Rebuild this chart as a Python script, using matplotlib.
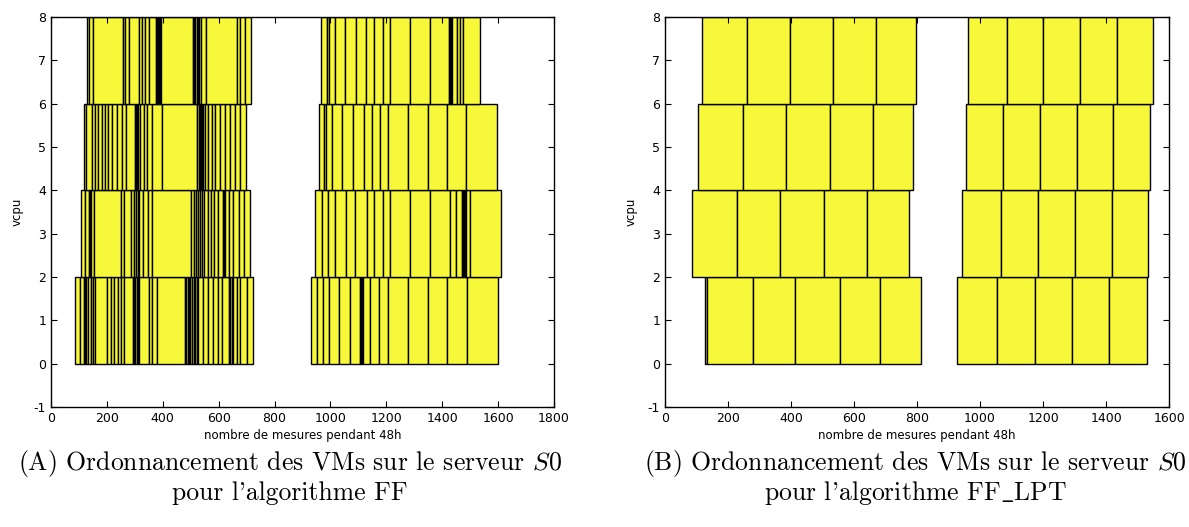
import matplotlib
matplotlib.use("Agg")
import matplotlib.pyplot as plt
import numpy as np

plt.rcParams['mathtext.fontset'] = 'cm'
plt.rcParams['axes.unicode_minus'] = False

# vcpu levels: each VM takes 2 vcpu, rows stacked from 0 to 8
vcpu_levels = [0, 2, 4, 6]

# start times of consecutive VMs on each row (last value = end of last VM)
# (A) algorithm FF
ff_row0 = [[86, 104, 119, 123, 127, 131, 143, 151, 159, 201, 213, 225, 238, 251, 262, 292, 297, 302,
            307, 312, 316, 350, 361, 378, 479, 484, 489, 494, 499, 504, 510, 516, 522, 527, 545, 563,
            580, 599, 611, 638, 642, 646, 650, 665, 676, 700, 724],
           [929, 951, 972, 996, 1032, 1070, 1106, 1110, 1114, 1118, 1142, 1175, 1207, 1279, 1351, 1418,
            1488, 1599]]
ff_row2 = [[107, 123, 135, 139, 143, 155, 251, 262, 286, 298, 304, 310, 316, 330, 346, 361, 501, 513,
            519, 525, 532, 540, 549, 561, 573, 584, 596, 614, 619, 624, 638, 650, 674, 692, 713],
           [945, 969, 993, 1016, 1056, 1088, 1130, 1156, 1187, 1213, 1285, 1356, 1428, 1450, 1470, 1474,
            1478, 1482, 1486, 1500, 1611]]
ff_row4 = [[119, 124, 146, 157, 169, 181, 193, 205, 217, 235, 253, 268, 301, 305, 309, 312, 319, 333,
            345, 363, 396, 524, 528, 532, 536, 539, 544, 551, 563, 575, 587, 605, 623, 641, 659, 676,
            697],
           [958, 978, 984, 1005, 1042, 1082, 1121, 1149, 1178, 1206, 1276, 1348, 1418, 1485, 1595]]
ff_row6 = [[128, 137, 151, 257, 266, 278, 316, 326, 335, 352, 374, 378, 382, 386, 390, 395, 508, 512,
            516, 521, 526, 531, 538, 555, 665, 678, 696, 714],
           [965, 987, 996, 1016, 1052, 1092, 1127, 1156, 1187, 1213, 1285, 1356, 1424, 1428, 1432,
            1436, 1452, 1464, 1476, 1535]]

# (B) algorithm FF_LPT
lpt_row0 = [[128, 134, 278, 414, 556, 683, 813], [926, 1055, 1175, 1293, 1410, 1529]]
lpt_row2 = [[87, 230, 366, 505, 642, 774], [944, 1066, 1183, 1301, 1418, 1534]]
lpt_row4 = [[106, 248, 385, 524, 660, 788], [956, 1073, 1191, 1309, 1423, 1540]]
lpt_row6 = [[118, 261, 397, 532, 671, 797], [963, 1085, 1199, 1317, 1434, 1550]]

ff_rows = [ff_row0, ff_row2, ff_row4, ff_row6]
lpt_rows = [lpt_row0, lpt_row2, lpt_row4, lpt_row6]

caption_a = [r"(A) Ordonnancement des VMs sur le serveur $\mathit{S0}$", "pour l'algorithme FF"]
caption_b = [r"(B) Ordonnancement des VMs sur le serveur $\mathit{S0}$", r"pour l'algorithme FF$\_$LPT"]


# draw one schedule: a bar per VM, 2 vcpu high
def draw_schedule(ax, rows, xmax):
    for level, groups in zip(vcpu_levels, rows):
        for edges in groups:
            edges = np.array(edges, dtype=float)
            ax.barh(np.full(len(edges) - 1, level), np.diff(edges), left=edges[:-1], height=2,
                    align='edge', color='#f8f83a', edgecolor='black', linewidth=1.0)
    ax.set_xlim(0, xmax)
    ax.set_ylim(-1, 8)
    ax.set_xticks(np.arange(0, xmax + 1, 200))
    ax.set_yticks(np.arange(-1, 9, 1))
    ax.set_xlabel('nombre de mesures pendant 48h', fontsize=8.5, labelpad=3)
    ax.set_ylabel('vcpu', fontsize=8.5, labelpad=7)
    ax.tick_params(direction='in', top=True, right=True, labelsize=9, length=4, pad=3.5)
    for s in ax.spines.values():
        s.set_linewidth(1.0)


fig = plt.figure(figsize=(11.89, 5.27), dpi=100)
ax1 = fig.add_axes([0.0429, 0.228, 0.423, 0.740])
ax2 = fig.add_axes([0.5593, 0.228, 0.424, 0.740])

draw_schedule(ax1, ff_rows, 1800)
draw_schedule(ax2, lpt_rows, 1600)

# captions (line 1 of (B) runs past the right edge, as in the source page)
fig.text(0.244, 0.121, caption_a[0], ha='center', va='center', family='cmr10', fontsize=18.5)
fig.text(0.244, 0.064, caption_a[1], ha='center', va='center', family='cmr10', fontsize=18.5)
fig.text(0.770, 0.121, caption_b[0], ha='center', va='center', family='cmr10', fontsize=18.5)
fig.text(0.770, 0.064, caption_b[1], ha='center', va='center', family='cmr10', fontsize=18.5)

fig.savefig('out.png', dpi=100)
